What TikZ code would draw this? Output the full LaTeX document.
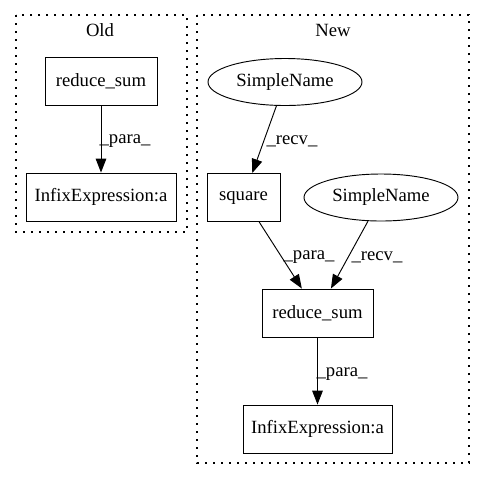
\documentclass[tikz,border=0pt]{standalone}
\usepackage{fontspec}
\setmainfont{Liberation Serif}
\usetikzlibrary{shapes.geometric,arrows.meta}
\tikzset{
  gv/.style={font=\fontsize{14pt}{16pt}\selectfont, inner sep=0pt},
  box/.style={gv, draw, line width=0.7pt, rectangle, minimum height=36pt},
  oval/.style={gv, draw, line width=0.7pt, ellipse, minimum width=115.5pt, minimum height=35.25pt},
  edge/.style={line width=0.7pt, -{Triangle[length=10.5pt,width=8pt]}},
  elabel/.style={gv},
  cluster/.style={line width=0.8pt, dash pattern=on 1.2pt off 4.8pt}
}
\begin{document}
\begin{tikzpicture}[x=0.75pt,y=-0.75pt]
\useasboundingbox (0,0) rectangle (485,480);
% clusters
\draw[cluster] (16,15) rectangle (187,232);
\draw[cluster] (197,15) rectangle (469,463);
\node[gv] (toldt) at (100,30) {Old};
\node[gv] (tnew) at (333,30) {New};
% Old
\node[box, minimum width=84pt] (ors) at (101,81) {reduce\_sum};
\node[box, minimum width=112.5pt] (oie) at (101,197) {InfixExpression:a};
\draw[edge] (ors) -- (oie);
\node[elabel] (l1) at (125,141) {\_para\_};
% New
\node[oval] (sn1) at (285,82) {SimpleName};
\node[box, minimum width=54.75pt] (sq) at (243.5,197.5) {square};
\node[oval] (sn2) at (381,197.5) {SimpleName};
\node[box, minimum width=83.25pt] (nrs) at (317.5,313) {reduce\_sum};
\node[box, minimum width=111.75pt] (nie) at (317.5,429) {InfixExpression:a};
\draw[edge] (sn1) -- (sq);
\draw[edge] (sq) -- (nrs);
\draw[edge] (sn2) -- (nrs);
\draw[edge] (nrs) -- (nie);
\node[elabel] (l2) at (292,141) {\_recv\_};
\node[elabel] (l3) at (309,257) {\_para\_};
\node[elabel] (l4) at (377,257) {\_recv\_};
\node[elabel] (l5) at (342,374) {\_para\_};
\end{tikzpicture}
\end{document}
